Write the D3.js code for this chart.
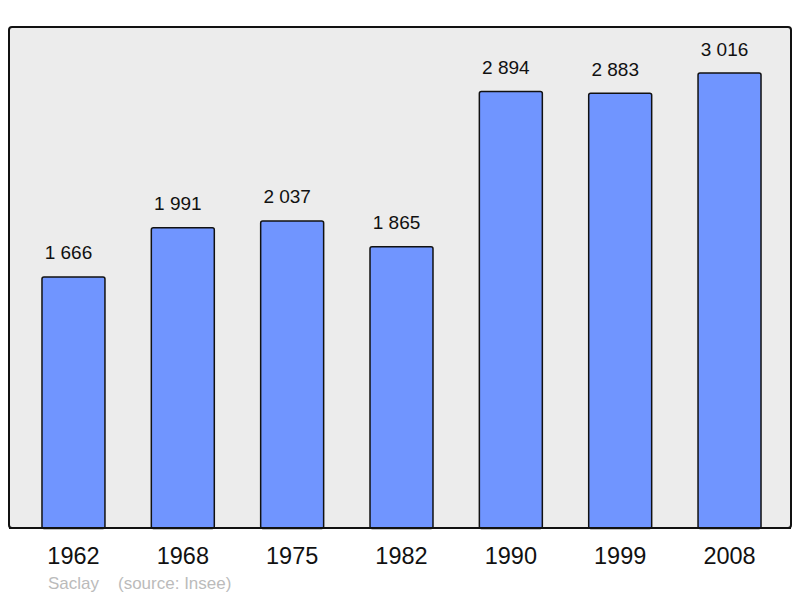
<!DOCTYPE html>
<html>
<head>
<meta charset="utf-8">
<script src="https://cdn.jsdelivr.net/npm/d3@7"></script>
<style>
  html, body { margin: 0; padding: 0; background: #fff; }
  text { font-family: "Liberation Sans", Arial, sans-serif; }
</style>
</head>
<body>
<div id="chart"></div>
<script>
// population data, Saclay
const years = ['1962', '1968', '1975', '1982', '1990', '1999', '2008'];
const population = [1666, 1991, 2037, 1865, 2894, 2883, 3016];
const town = 'Saclay';
const source = '(source: Insee)';

const width = 800, height = 598;
const frame = { left: 9, top: 27, right: 791, bottom: 528 };

const svg = d3.select('#chart')
    .append('svg')
    .attr('width', width)
    .attr('height', height);

// plot frame
svg.append('rect')
    .attr('x', frame.left)
    .attr('y', frame.top)
    .attr('width', frame.right - frame.left)
    .attr('height', frame.bottom - frame.top)
    .attr('rx', 3)
    .attr('fill', '#ececec')
    .attr('stroke', '#111')
    .attr('stroke-width', 2);

const x = d3.scaleBand()
    .domain(years)
    .range([18.8, 784.2])
    .paddingInner(0.424)
    .paddingOuter(0.212);

const y = d3.scaleLinear()
    .domain([0, d3.max(population) * 1.1])
    .range([frame.bottom, frame.top]);

const data = years.map((yr, i) => ({ year: yr, value: population[i] }));

svg.selectAll('.bar')
    .data(data)
    .join('rect')
    .attr('class', 'bar')
    .attr('x', d => x(d.year))
    .attr('y', d => y(d.value) + 0.5)
    .attr('width', x.bandwidth())
    .attr('height', d => y(0) - y(d.value))
    .attr('rx', 2)
    .attr('fill', '#7095ff')
    .attr('stroke', '#111')
    .attr('stroke-width', 1.5);

// redraw bottom edge of frame over the bars
svg.append('line')
    .attr('x1', frame.left)
    .attr('x2', frame.right)
    .attr('y1', frame.bottom)
    .attr('y2', frame.bottom)
    .attr('stroke', '#111')
    .attr('stroke-width', 2);

const fmt = v => d3.format(',')(v).replace(',', ' ');

svg.selectAll('.val')
    .data(data)
    .join('text')
    .attr('class', 'val')
    .attr('x', d => x(d.year) + x.bandwidth() / 2 - 5)
    .attr('y', d => y(d.value) - 17)
    .attr('text-anchor', 'middle')
    .attr('font-size', 19)
    .attr('fill', '#111')
    .text(d => fmt(d.value));

const xAxis = d3.axisBottom(x).tickSize(0).tickPadding(0);
const gx = svg.append('g')
    .attr('transform', `translate(0,${frame.bottom})`)
    .call(xAxis);
gx.select('.domain').remove();
gx.selectAll('text')
    .attr('y', 36)
    .attr('dy', 0)
    .attr('font-size', 23.5)
    .attr('font-family', '"Liberation Sans", Arial, sans-serif')
    .attr('fill', '#111');

svg.append('text')
    .attr('x', 48)
    .attr('y', 589)
    .attr('font-size', 17)
    .attr('fill', '#bbb')
    .text(town);

svg.append('text')
    .attr('x', 118)
    .attr('y', 589)
    .attr('font-size', 17)
    .attr('fill', '#bbb')
    .text(source);
</script>
</body>
</html>
